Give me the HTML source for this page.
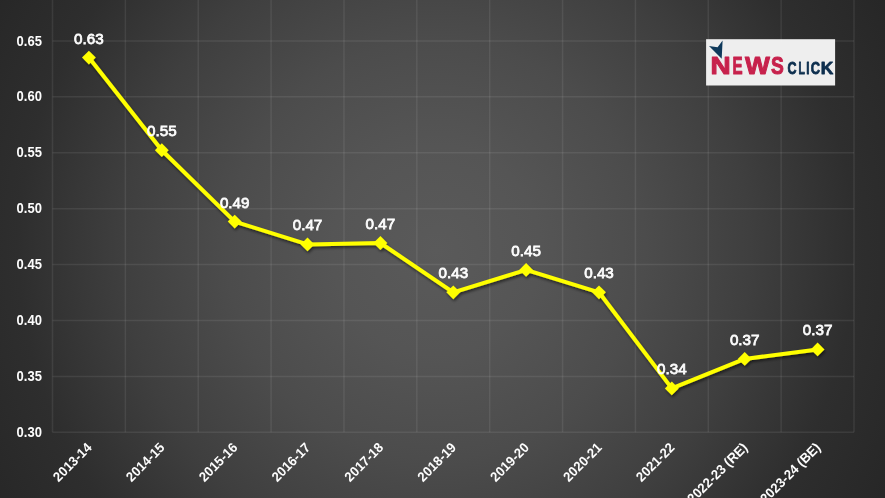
<!DOCTYPE html>
<html lang="en"><head><meta charset="utf-8"><title>Chart</title>
<style>
html,body{margin:0;padding:0;background:#2a2a2a;}
body{width:885px;height:498px;overflow:hidden;font-family:"Liberation Sans",Arial,sans-serif;}
svg{display:block;}
.yl{font:bold 13.0px "Liberation Sans",Arial,sans-serif;fill:#fff;text-anchor:end;}
.dl{font:normal 15.2px "Liberation Sans",Arial,sans-serif;fill:#fff;text-anchor:middle;stroke:#fff;stroke-width:0.78;}
.xl{font:bold 13.1px "Liberation Sans",Arial,sans-serif;fill:#fff;text-anchor:end;}
.g line{stroke:rgba(255,255,255,0.078);stroke-width:1.5;}
</style></head><body>
<svg width="885" height="498" viewBox="0 0 885 498">
<defs>
<radialGradient id="bg" gradientUnits="userSpaceOnUse" cx="0" cy="0" r="1" gradientTransform="translate(436.3 249.7) scale(522.6 522.6)">
<stop offset="0" stop-color="#5a5a5a"/><stop offset="0.2" stop-color="#555555"/><stop offset="0.4" stop-color="#4c4c4c"/><stop offset="0.6" stop-color="#3f3f3f"/><stop offset="0.8" stop-color="#2e2e2e"/><stop offset="1" stop-color="#262626"/>
</radialGradient>
<filter id="sh" x="-5%" y="-5%" width="110%" height="115%"><feGaussianBlur in="SourceAlpha" stdDeviation="1.6"/><feOffset dx="1" dy="1.5" result="b"/><feComponentTransfer><feFuncA type="linear" slope="0.55"/></feComponentTransfer><feMerge><feMergeNode/><feMergeNode in="SourceGraphic"/></feMerge></filter>
</defs>
<rect width="885" height="498" fill="url(#bg)"/>
<g class="g">
<line x1="52.50" y1="0" x2="52.50" y2="432.35"/>
<line x1="125.36" y1="0" x2="125.36" y2="432.35"/>
<line x1="198.23" y1="0" x2="198.23" y2="432.35"/>
<line x1="271.09" y1="0" x2="271.09" y2="432.35"/>
<line x1="343.96" y1="0" x2="343.96" y2="432.35"/>
<line x1="416.82" y1="0" x2="416.82" y2="432.35"/>
<line x1="489.68" y1="0" x2="489.68" y2="432.35"/>
<line x1="562.55" y1="0" x2="562.55" y2="432.35"/>
<line x1="635.41" y1="0" x2="635.41" y2="432.35"/>
<line x1="708.28" y1="0" x2="708.28" y2="432.35"/>
<line x1="781.14" y1="0" x2="781.14" y2="432.35"/>
<line x1="854.00" y1="0" x2="854.00" y2="432.35"/>
<line x1="52.50" y1="40.95" x2="854.00" y2="40.95"/>
<line x1="52.50" y1="96.86" x2="854.00" y2="96.86"/>
<line x1="52.50" y1="152.78" x2="854.00" y2="152.78"/>
<line x1="52.50" y1="208.69" x2="854.00" y2="208.69"/>
<line x1="52.50" y1="264.61" x2="854.00" y2="264.61"/>
<line x1="52.50" y1="320.52" x2="854.00" y2="320.52"/>
<line x1="52.50" y1="376.43" x2="854.00" y2="376.43"/>
<line x1="52.50" y1="432.35" x2="854.00" y2="432.35"/>
</g>
<g opacity="0.99">
<text class="yl" transform="translate(41.9 45.50) scale(1 1.07)">0.65</text>
<text class="yl" transform="translate(41.9 101.41) scale(1 1.07)">0.60</text>
<text class="yl" transform="translate(41.9 157.33) scale(1 1.07)">0.55</text>
<text class="yl" transform="translate(41.9 213.24) scale(1 1.07)">0.50</text>
<text class="yl" transform="translate(41.9 269.16) scale(1 1.07)">0.45</text>
<text class="yl" transform="translate(41.9 325.07) scale(1 1.07)">0.40</text>
<text class="yl" transform="translate(41.9 380.98) scale(1 1.07)">0.35</text>
<text class="yl" transform="translate(41.9 436.90) scale(1 1.07)">0.30</text>
</g>
<g filter="url(#sh)">
<polyline points="88.9,57.6 161.8,150.2 234.7,221.6 307.5,244.4 380.4,243.0 453.3,292.3 526.1,269.9 599.0,292.3 671.8,388.4 744.7,358.9 817.6,349.4" fill="none" stroke="#ffff00" stroke-width="4.0" stroke-linejoin="round" stroke-linecap="round"/>
<path d="M88.9 50.7L95.8 57.6L88.9 64.5L82.0 57.6Z" fill="#ffff00"/>
<path d="M161.8 143.3L168.7 150.2L161.8 157.1L154.9 150.2Z" fill="#ffff00"/>
<path d="M234.7 214.7L241.6 221.6L234.7 228.5L227.8 221.6Z" fill="#ffff00"/>
<path d="M307.5 237.5L314.4 244.4L307.5 251.3L300.6 244.4Z" fill="#ffff00"/>
<path d="M380.4 236.1L387.3 243.0L380.4 249.9L373.5 243.0Z" fill="#ffff00"/>
<path d="M453.3 285.4L460.2 292.3L453.3 299.2L446.4 292.3Z" fill="#ffff00"/>
<path d="M526.1 263.0L533.0 269.9L526.1 276.8L519.2 269.9Z" fill="#ffff00"/>
<path d="M599.0 285.4L605.9 292.3L599.0 299.2L592.1 292.3Z" fill="#ffff00"/>
<path d="M671.8 381.5L678.7 388.4L671.8 395.3L664.9 388.4Z" fill="#ffff00"/>
<path d="M744.7 352.0L751.6 358.9L744.7 365.8L737.8 358.9Z" fill="#ffff00"/>
<path d="M817.6 342.5L824.5 349.4L817.6 356.3L810.7 349.4Z" fill="#ffff00"/>
</g>
<g opacity="0.99">
<text class="dl" transform="translate(88.9 43.6) scale(1 1.0)">0.63</text>
<text class="dl" transform="translate(161.8 136.2) scale(1 1.0)">0.55</text>
<text class="dl" transform="translate(234.7 207.6) scale(1 1.0)">0.49</text>
<text class="dl" transform="translate(307.5 230.4) scale(1 1.0)">0.47</text>
<text class="dl" transform="translate(380.4 229.0) scale(1 1.0)">0.47</text>
<text class="dl" transform="translate(453.3 278.3) scale(1 1.0)">0.43</text>
<text class="dl" transform="translate(526.1 255.9) scale(1 1.0)">0.45</text>
<text class="dl" transform="translate(599.0 278.3) scale(1 1.0)">0.43</text>
<text class="dl" transform="translate(671.8 374.4) scale(1 1.0)">0.34</text>
<text class="dl" transform="translate(744.7 344.9) scale(1 1.0)">0.37</text>
<text class="dl" transform="translate(817.6 335.4) scale(1 1.0)">0.37</text>
</g>
<g opacity="0.99">
<text class="xl" transform="translate(92.6 448.4) rotate(-45) scale(1 1.035)">2013-14</text>
<text class="xl" transform="translate(165.5 448.4) rotate(-45) scale(1 1.035)">2014-15</text>
<text class="xl" transform="translate(238.4 448.4) rotate(-45) scale(1 1.035)">2015-16</text>
<text class="xl" transform="translate(311.2 448.4) rotate(-45) scale(1 1.035)">2016-17</text>
<text class="xl" transform="translate(384.1 448.4) rotate(-45) scale(1 1.035)">2017-18</text>
<text class="xl" transform="translate(457.0 448.4) rotate(-45) scale(1 1.035)">2018-19</text>
<text class="xl" transform="translate(529.8 448.4) rotate(-45) scale(1 1.035)">2019-20</text>
<text class="xl" transform="translate(602.7 448.4) rotate(-45) scale(1 1.035)">2020-21</text>
<text class="xl" transform="translate(675.5 448.4) rotate(-45) scale(1 1.035)">2021-22</text>
<text class="xl" transform="translate(748.4 448.4) rotate(-45) scale(1 1.035)">2022-23 (RE)</text>
<text class="xl" transform="translate(821.3 448.4) rotate(-45) scale(1 1.035)">2023-24 (BE)</text>
</g>
<g opacity="0.99">
<rect x="706.1" y="39.2" width="129" height="46.3" fill="#f1f1f1"/>
<path d="M709 46L717.6 47.2L722.6 40.6L721.7 58.7Z" fill="#0f3a5c"/>
<text y="74.10" font-family="Liberation Sans,Arial,sans-serif" font-weight="bold" font-size="24.27" fill="#c9214d" stroke="#c9214d" stroke-width="1.0" stroke-linejoin="round"><tspan x="710.63" textLength="20.15" lengthAdjust="spacingAndGlyphs">N</tspan><tspan x="732.49" textLength="10.11" lengthAdjust="spacingAndGlyphs">E</tspan><tspan x="744.97" textLength="24.85" lengthAdjust="spacingAndGlyphs">W</tspan><tspan x="770.95" textLength="12.80" lengthAdjust="spacingAndGlyphs">S</tspan></text>
<text y="73.80" font-family="Liberation Sans,Arial,sans-serif" font-weight="bold" font-size="16.13" fill="#0d2f4f" stroke="#0d2f4f" stroke-width="0.8" stroke-linejoin="round"><tspan x="787.39" textLength="9.06" lengthAdjust="spacingAndGlyphs">C</tspan><tspan x="798.50" textLength="6.43" lengthAdjust="spacingAndGlyphs">L</tspan><tspan x="806.31" textLength="3.28" lengthAdjust="spacingAndGlyphs">I</tspan><tspan x="810.67" textLength="9.28" lengthAdjust="spacingAndGlyphs">C</tspan><tspan x="820.84" textLength="12.52" lengthAdjust="spacingAndGlyphs">K</tspan></text>
</g>
</svg></body></html>
